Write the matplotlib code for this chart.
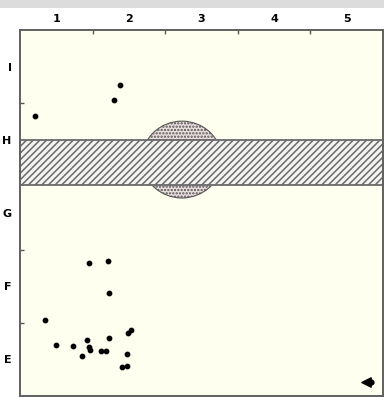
import matplotlib.pyplot as plt
from matplotlib.patches import Ellipse, Rectangle

# grid labels (cells centred between boundaries)
col_labels = ['1', '2', '3', '4', '5']
row_labels = ['E', 'F', 'G', 'H', 'I']

# points (grid units, 0..5 on both axes)
pts_x = [1.38, 1.29, 0.21, 0.95, 1.21, 1.22, 0.34, 0.49, 0.73, 0.92, 0.95,
         0.96, 0.86, 1.12, 1.19, 1.22, 1.49, 1.53, 1.48, 1.41, 1.47]
pts_y = [4.25, 4.05, 3.82, 1.82, 1.84, 1.41, 1.04, 0.70, 0.68, 0.77, 0.67,
         0.63, 0.55, 0.62, 0.62, 0.79, 0.86, 0.90, 0.58, 0.40, 0.41]

# hatched band and dotted disc
band_lo, band_hi = 2.88, 3.50
disc_x, disc_y, disc_w, disc_h = 2.23, 3.23, 1.10, 1.05

# arrow marker at bottom right
arrow_x, arrow_y = 4.76, 0.19

plt.rcParams['hatch.linewidth'] = 1.1

fig = plt.figure(figsize=(3.84, 3.97), dpi=100)
fig.patches.append(Rectangle((0, 389 / 397), 1, 8 / 397, transform=fig.transFigure,
                             facecolor='#dcdcdc', edgecolor='none', zorder=0))
ax = fig.add_axes([20 / 384, 1 / 397, 363 / 384, 366 / 397])
ax.set_facecolor('#fffff0')
ax.set_xlim(0, 5)
ax.set_ylim(0, 5)

disc = Ellipse((disc_x, disc_y), disc_w, disc_h, facecolor='#eadede',
               edgecolor='#555555', hatch='.....', linewidth=0.8, zorder=1)
ax.add_patch(disc)
ax.axhspan(band_lo, band_hi, facecolor='#f4f4f2', edgecolor='#6a6a6a',
           hatch='/////', linewidth=1.3, zorder=2)

ax.scatter(pts_x, pts_y, s=10, color='black', zorder=3)
ax.scatter([arrow_x], [arrow_y], marker='<', s=45, color='black', zorder=3)
ax.scatter([arrow_x + 0.08], [arrow_y], marker='o', s=12, color='black', zorder=3)

ax.xaxis.tick_top()
ax.set_xticks([1, 2, 3, 4])
ax.set_xticklabels([])
ax.set_yticks([1, 2, 3, 4])
ax.set_yticklabels([])
ax.tick_params(which='major', direction='in', length=3, width=1, color='#555555')
ax.set_xticks([0.5, 1.5, 2.5, 3.5, 4.5], minor=True)
ax.set_xticklabels(col_labels, minor=True, fontsize=8, fontweight='bold')
ax.set_yticks([0.5, 1.5, 2.5, 3.5, 4.5], minor=True)
ax.set_yticklabels(row_labels, minor=True, fontsize=8, fontweight='bold')
ax.tick_params(which='minor', length=0, pad=6)
ax.tick_params(axis='x', which='minor', pad=4)

for s in ax.spines.values():
    s.set_color('#606060')
    s.set_linewidth(1.4)

fig.savefig('out.png', dpi=100)
